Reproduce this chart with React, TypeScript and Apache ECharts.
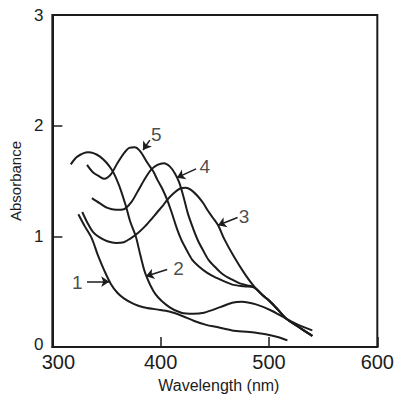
import React, { useEffect, useRef } from "react";
import * as echarts from "echarts";

// Absorbance spectra: [wavelength (nm), absorbance]
const curve1: [number, number][] = [
  [324, 1.2], [330, 1.09], [336.5, 0.98], [342, 0.83], [348, 0.69], [354, 0.57],
  [360, 0.49], [366, 0.44], [375, 0.39], [384, 0.36], [396, 0.34], [408, 0.32],
  [420, 0.28], [431, 0.235], [442, 0.2], [452, 0.18], [466, 0.15], [482, 0.135],
  [497, 0.115], [508, 0.09], [517, 0.06],
];
const curve2: [number, number][] = [
  [317, 1.65], [323, 1.72], [333, 1.76], [344, 1.72], [355, 1.6], [362, 1.45],
  [368, 1.27], [372, 1.13], [377, 1.0], [381, 0.84], [386, 0.66], [395, 0.48],
  [408, 0.36], [419, 0.31], [430, 0.3], [440, 0.31], [455, 0.36], [466, 0.4],
  [475, 0.41], [488, 0.385], [502, 0.33], [515, 0.26], [527, 0.2], [540, 0.15],
];
const curve3: [number, number][] = [
  [327.6, 1.22], [332, 1.13], [337.4, 1.04], [343.6, 0.99], [350.8, 0.956],
  [358.8, 0.94], [366, 0.947], [372, 0.98], [379, 1.03], [385.5, 1.09], [391, 1.15],
  [397, 1.22], [401.5, 1.27], [406, 1.33], [412, 1.39], [417.5, 1.43], [423, 1.44],
  [428, 1.42], [434.5, 1.36], [440, 1.29], [443, 1.24], [448, 1.17], [453, 1.1],
  [459, 0.97], [468, 0.81], [477, 0.67], [486, 0.55], [495, 0.46], [500, 0.42],
  [508, 0.34], [515.5, 0.26], [526, 0.19], [540, 0.1],
];
const curve4: [number, number][] = [
  [336.5, 1.345], [343.6, 1.3], [350.8, 1.257], [358.8, 1.24], [366, 1.245],
  [373, 1.31], [379, 1.41], [385.5, 1.52], [391, 1.6], [397, 1.645], [403, 1.66],
  [408.6, 1.63], [413, 1.57], [417, 1.49], [421, 1.36], [425, 1.21], [430, 1.07],
  [434.5, 0.96], [439, 0.876], [444, 0.79], [450.5, 0.72], [457, 0.66],
  [465.6, 0.61], [473, 0.575], [480, 0.557], [486, 0.54], [495, 0.46], [500, 0.42],
  [508, 0.34], [515.5, 0.26], [526, 0.19], [540, 0.1],
];
const curve5: [number, number][] = [
  [332, 1.646], [337.4, 1.58], [343.6, 1.54], [348, 1.52], [354, 1.56], [360, 1.66],
  [366, 1.75], [371, 1.8], [376, 1.805], [381, 1.77], [388, 1.66], [393, 1.59],
  [397, 1.51], [401.5, 1.43], [406, 1.33], [410, 1.22], [415, 1.07], [419, 0.97],
  [424, 0.876], [429, 0.79], [435, 0.73], [443, 0.67], [450.5, 0.63], [465.6, 0.566],
  [477, 0.549], [486, 0.54], [495, 0.46], [500, 0.42], [508, 0.34], [515.5, 0.26],
  [526, 0.19], [540, 0.1],
];

const curves = [curve1, curve2, curve3, curve4, curve5];

// Curve number labels and their arrows (data coordinates)
const labelNames = ["1", "2", "3", "4", "5"];
const labelPositions: [number, number][] = [
  [323, 0.584], [416.6, 0.71], [477, 1.18], [440.7, 1.63], [396, 1.92],
];
const arrowStarts: [number, number][] = [
  [332, 0.59], [406, 0.7], [471, 1.17], [432.7, 1.61], [390, 1.87],
];
const arrowTips: [number, number][] = [
  [352.5, 0.59], [386.4, 0.64], [453, 1.1], [415, 1.53], [383.7, 1.78],
];

const xMin = 300, xMax = 600, xStep = 100;
const yMin = 0, yMax = 3, yStep = 1;

const INK = "#1c1c1c";
const FONT = "Liberation Sans";

export default function App() {
  const ref = useRef<HTMLDivElement>(null);
  useEffect(() => {
    const chart = echarts.init(ref.current!, null, { renderer: "svg" });
    chart.setOption({
      animation: false,
      backgroundColor: "#ffffff",
      grid: {
        left: 46, right: 14, top: 15, bottom: 44,
        show: true, borderColor: INK, borderWidth: 2,
      },
      xAxis: {
        type: "value", min: xMin, max: xMax, interval: xStep,
        axisLine: { show: true, lineStyle: { color: INK, width: 2 } },
        axisTick: { show: true, inside: true, length: 10, lineStyle: { color: INK, width: 1.5 } },
        axisLabel: {
          fontSize: 20, fontFamily: FONT, color: INK, margin: 5,
          formatter: (v: number) => (v === xMin ? "{first|" + v + "}" : String(v)),
          rich: { first: { fontSize: 20, fontFamily: FONT, color: INK, padding: [0, 0, 0, 12] } },
        },
        splitLine: { show: false },
        name: "Wavelength (nm)", nameLocation: "middle", nameGap: 30,
        nameTextStyle: { fontSize: 16, fontFamily: FONT, color: INK, padding: [0, 0, 0, 8] },
      },
      yAxis: {
        type: "value", min: yMin, max: yMax, interval: yStep,
        axisLine: { show: true, lineStyle: { color: INK, width: 2 } },
        axisTick: { show: true, inside: true, length: 10, lineStyle: { color: INK, width: 1.5 } },
        axisLabel: {
          fontSize: 17, fontFamily: FONT, color: INK, margin: 9,
          formatter: (v: number) => (v === yMin ? "{first|" + v + "}" : String(v)),
          rich: { first: { fontSize: 17, fontFamily: FONT, color: INK, padding: [0, 0, 6, 0] } },
        },
        splitLine: { show: false },
        name: "Absorbance", nameLocation: "middle", nameGap: 22,
        nameTextStyle: { fontSize: 15, fontFamily: FONT, color: INK },
      },
      series: [
        ...curves.map((c, i) => ({
          type: "line",
          name: "curve" + (i + 1),
          data: c,
          smooth: 0.3,
          showSymbol: false,
          symbol: "none",
          silent: true,
          lineStyle: { color: INK, width: 2 },
        })),
        {
          type: "lines",
          coordinateSystem: "cartesian2d",
          silent: true,
          symbol: ["none", "arrow"],
          symbolSize: 8,
          lineStyle: { color: INK, width: 1.5, curveness: 0, opacity: 1 },
          data: arrowStarts.map((s, i) => ({ coords: [s, arrowTips[i]] })),
        },
        {
          type: "scatter",
          silent: true,
          symbolSize: 1,
          itemStyle: { color: "rgba(0,0,0,0)" },
          data: labelPositions.map((p, i) => [p[0], p[1], labelNames[i]]),
          label: {
            show: true,
            position: "inside",
            formatter: (p: any) => p.value[2],
            fontSize: 19,
            fontFamily: FONT,
            color: INK,
          },
        },
      ],
    });
    return () => chart.dispose();
  }, []);
  return (
    <div
      ref={ref}
      style={{ position: "fixed", left: 0, top: 0, width: 397, height: 398 }}
    />
  );
}
